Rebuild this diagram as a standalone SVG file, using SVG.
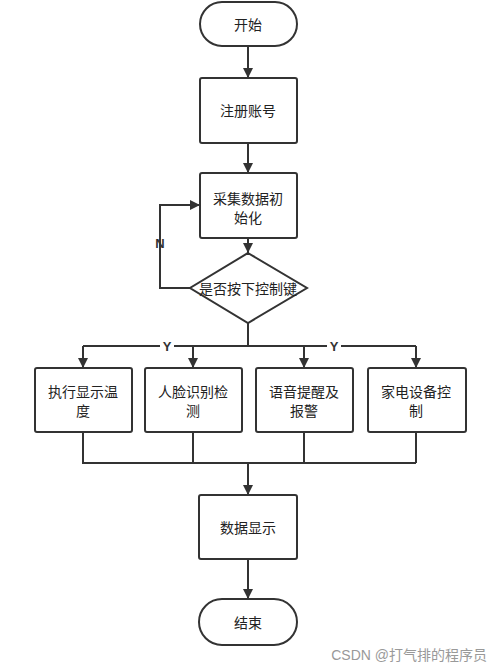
<svg xmlns="http://www.w3.org/2000/svg" width="500" height="667" viewBox="0 0 500 667">
<defs>
<marker id="ah" viewBox="0 0 10 10" refX="10" refY="5" markerWidth="10" markerHeight="10" markerUnits="userSpaceOnUse" orient="auto">
<path d="M0,0 L10,5 L0,10 z" fill="#333"/>
</marker>
<style>
.n{fill:#fff;stroke:#333;stroke-width:2}
.t{font-family:"Noto Sans CJK SC","Liberation Sans",sans-serif;font-size:14px;fill:#222;text-anchor:middle;dominant-baseline:central}
.c{fill:none;stroke:#333;stroke-width:2}
.a{marker-end:url(#ah)}
.l{font-family:"Liberation Sans",sans-serif;font-size:13px;font-weight:bold;fill:#333;text-anchor:middle;dominant-baseline:central}
</style>
</defs>
<rect width="500" height="667" fill="#fff"/>
<g id="connectors">
<path class="c a" d="M248,46 V78"/>
<path class="c a" d="M248,143 V173"/>
<path class="c a" d="M248,238 V253"/>
<path class="c a" d="M190,288 H160 V205 H200"/>
<path class="c" d="M248,323 V346"/>
<path class="c" d="M83,346 H416"/>
<path class="c a" d="M83,346 V368"/>
<path class="c a" d="M193,346 V368"/>
<path class="c a" d="M304,346 V368"/>
<path class="c a" d="M416,346 V368"/>
<path class="c" d="M83,432 V463 H416 M193,432 V463 M304,432 V463 M416,432 V463"/>
<path class="c a" d="M248,463 V495"/>
<path class="c a" d="M248,559 V599"/>
<rect x="160" y="338" width="14" height="16" fill="#fff"/>
<text class="l" x="167" y="346">Y</text>
<rect x="327" y="338" width="14" height="16" fill="#fff"/>
<text class="l" x="334" y="346">Y</text>
<text class="l" x="160" y="243">N</text>
</g>
<g id="start"><rect class="n" x="200" y="2" width="97" height="44" rx="22"/><text class="t" x="248" y="24">开始</text></g>
<g id="register"><rect class="n" x="200" y="78" width="97" height="65" rx="2"/><text class="t" x="248" y="110">注册账号</text></g>
<g id="init"><rect class="n" x="200" y="173" width="97" height="65" rx="2"/><text class="t" x="248" y="198">采集数据初</text><text class="t" x="248" y="217">始化</text></g>
<g id="decision"><polygon class="n" points="248,253 307,288 248,323 190,288"/><text class="t" x="248" y="288">是否按下控制键</text></g>
<g id="temp"><rect class="n" x="35" y="368" width="97" height="64" rx="2"/><text class="t" x="83" y="391">执行显示温</text><text class="t" x="83" y="410">度</text></g>
<g id="face"><rect class="n" x="145" y="368" width="97" height="64" rx="2"/><text class="t" x="193" y="391">人脸识别检</text><text class="t" x="193" y="410">测</text></g>
<g id="voice"><rect class="n" x="256" y="368" width="97" height="64" rx="2"/><text class="t" x="304" y="391">语音提醒及</text><text class="t" x="304" y="410">报警</text></g>
<g id="appliance"><rect class="n" x="368" y="368" width="98" height="64" rx="2"/><text class="t" x="416" y="391">家电设备控</text><text class="t" x="416" y="410">制</text></g>
<g id="display"><rect class="n" x="199" y="495" width="98" height="64" rx="2"/><text class="t" x="248" y="527">数据显示</text></g>
<g id="end"><rect class="n" x="199" y="599" width="98" height="46" rx="23"/><text class="t" x="248" y="622">结束</text></g>
<text x="487" y="655" font-family="'Liberation Sans','Noto Sans CJK SC',sans-serif" font-size="14" fill="#999" text-anchor="end" dominant-baseline="central">CSDN @打气排的程序员</text>
</svg>
